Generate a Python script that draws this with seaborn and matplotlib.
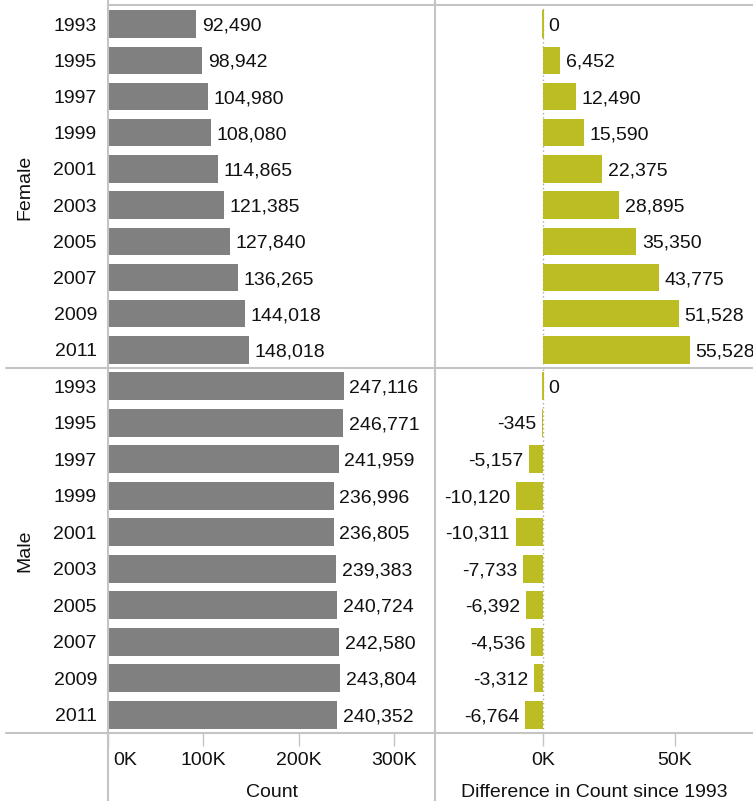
import matplotlib
matplotlib.use("Agg")
import numpy as np
import pandas as pd
import matplotlib.pyplot as plt
import seaborn as sns
from matplotlib.lines import Line2D
from matplotlib.ticker import FuncFormatter
from matplotlib.transforms import ScaledTranslation

# ---------------- data ----------------
years = ["1993", "1995", "1997", "1999", "2001", "2003", "2005", "2007", "2009", "2011"]
sexes = ["Female", "Male"]
female_count = [92490, 98942, 104980, 108080, 114865, 121385, 127840, 136265, 144018, 148018]
female_diff = [0, 6452, 12490, 15590, 22375, 28895, 35350, 43775, 51528, 55528]
male_count = [247116, 246771, 241959, 236996, 236805, 239383, 240724, 242580, 243804, 240352]
male_diff = [0, -345, -5157, -10120, -10311, -7733, -6392, -4536, -3312, -6764]
count_ticks = [0, 100000, 200000, 300000]
diff_ticks = [0, 50000]
col_titles = ["Count", "Difference in Count since 1993"]

data = {
    "Female": (female_count, female_diff),
    "Male": (male_count, male_diff),
}

# ---------------- style ----------------
sns.set_theme(style="white")
plt.rcParams["font.family"] = ["Liberation Sans", "DejaVu Sans"]
FS = 14
TXT = "#111111"
GRID = "#c4c4c4"
GRAY = "#808080"
OLIVE = "#bcbd22"

W, H = 753, 801
fig = plt.figure(figsize=(W / 100, H / 100), dpi=100)


def fx(px):
    return px / W


def fy(py):
    return 1 - py / H


x_left, x_mid, x_right = 108, 435, 753
y_top, y_div, y_bot = 5, 368, 733
rows = [(y_top + 1, y_div), (y_div, y_bot)]
cols = [(x_left, x_mid), (x_mid, x_right)]
xlims = [(0, 343000), (-40900, 79500)]
colors = [GRAY, OLIVE]
ticks = [count_ticks, diff_ticks]

fmt = FuncFormatter(lambda v, p: f"{int(round(v / 1000))}K")

for r, sex in enumerate(sexes):
    yt, yb = rows[r]
    for c in range(2):
        xl, xr = cols[c]
        ax = fig.add_axes([fx(xl), fy(yb), fx(xr) - fx(xl), fy(yt) - fy(yb)])
        df = pd.DataFrame({"year": years, "value": data[sex][c]})
        sns.barplot(data=df, x="value", y="year", order=years, orient="h",
                    color=colors[c], saturation=1, width=0.76, errorbar=None,
                    linewidth=0, ax=ax)
        for p in ax.patches:
            if p.get_width() == 0:
                p.set_edgecolor(colors[c])
                p.set_linewidth(1.4)
        anns = ax.bar_label(ax.containers[0],
                            labels=[f"{v:,}" for v in data[sex][c]],
                            padding=4, fontsize=FS, color=TXT)
        for a in anns:
            ox, oy = a.xyann
            a.xyann = (ox, oy - 1.5)
        if c == 1:
            ax.axvline(0, color="#aaaaaa", lw=1, ls=(0, (1, 2)), zorder=0)
        ax.set_xlim(*xlims[c])
        ax.set_ylim(len(years) - 0.5, -0.5)
        for s in ax.spines.values():
            s.set_visible(False)
        ax.set_xticks(ticks[c])
        ax.xaxis.set_major_formatter(fmt)
        ax.set_ylabel("")
        if c == 0:
            ax.tick_params(axis="y", length=0, pad=8, labelsize=FS, labelcolor=TXT)
        else:
            ax.tick_params(axis="y", left=False, labelleft=False)
        if r == len(sexes) - 1:
            ax.tick_params(axis="x", bottom=True, length=9, width=1, color=GRID,
                           direction="out", pad=4.5, labelsize=FS, labelcolor=TXT)
            ax.set_xlabel(col_titles[c], fontsize=FS, color=TXT, labelpad=11)
            if c == 0:
                fig.canvas.draw()
                lab0 = ax.get_xticklabels()[0]
                lab0.set_horizontalalignment("left")
                lab0.set_transform(lab0.get_transform() +
                                   ScaledTranslation(5 / 100, 0, fig.dpi_scale_trans))
        else:
            ax.tick_params(axis="x", bottom=False, labelbottom=False)
            ax.set_xlabel("")
        ax.grid(False)
        ax.set_facecolor("none")
    fig.text(fx(25), fy((yt + yb) / 2), sex, rotation=90, ha="center", va="center",
             fontsize=FS, color=TXT)

# frame lines
lw = 1.5
for xp in (x_left, x_mid):
    fig.add_artist(Line2D([fx(xp), fx(xp)], [0, 1], color=GRID, lw=lw,
                          transform=fig.transFigure))
fig.add_artist(Line2D([fx(x_left), 1], [fy(y_top), fy(y_top)], color=GRID, lw=lw,
                      transform=fig.transFigure))
for yp in (y_div, y_bot):
    fig.add_artist(Line2D([fx(6), 1], [fy(yp), fy(yp)], color=GRID, lw=lw,
                          transform=fig.transFigure))

fig.savefig("out.png", dpi=100)
